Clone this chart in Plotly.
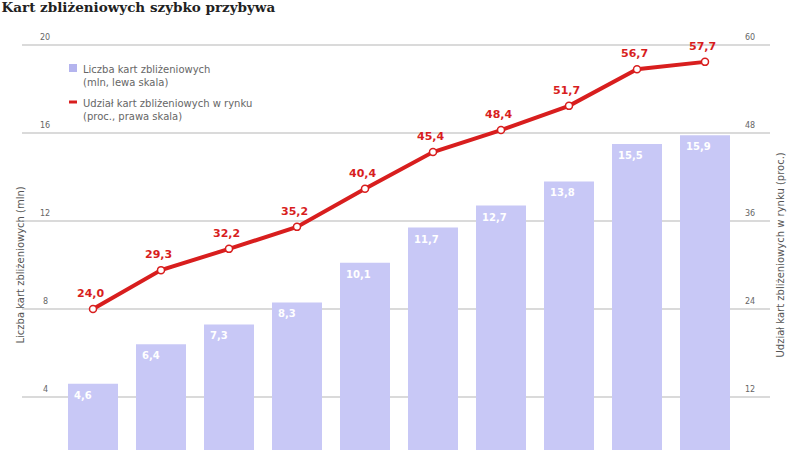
import plotly.graph_objects as go

# ---- data ----
periods = list(range(10))
cards_mln = [4.6, 6.4, 7.3, 8.3, 10.1, 11.7, 12.7, 13.8, 15.5, 15.9]
share_pct = [24.0, 29.3, 32.2, 35.2, 40.4, 45.4, 48.4, 51.7, 56.7, 57.7]
left_ticks = [4, 8, 12, 16, 20]
right_ticks = [12, 24, 36, 48, 60]

title = "Kart zbliżeniowych szybko przybywa"
left_title = "Liczba kart zbliżeniowych (mln)"
right_title = "Udział kart zbliżeniowych w rynku (proc.)"
legend_bar = ["Liczba kart zbliżeniowych", "(mln, lewa skala)"]
legend_line = ["Udział kart zbliżeniowych w rynku", "(proc., prawa skala)"]

def pl(v):
    return f"{v:.1f}".replace(".", ",")

BAR = "#c8c8f6"
RED = "#d81e1e"
GRAY = "#666666"

# pixel layout helpers
L, R, T, B = 22, 30, 30, 0
W, H = 800, 450
pw, ph = W - L - R, H - T - B
def px_x(x):
    return (x - L) / pw
def px_y(y):
    return (H - B - y) / ph

fig = go.Figure()
fig.add_trace(go.Bar(
    x=periods, y=cards_mln, width=0.735, marker=dict(color=BAR, line=dict(width=0)),
    hoverinfo="skip", showlegend=False))
fig.add_trace(go.Scatter(
    x=periods, y=share_pct, yaxis="y2", mode="lines+markers",
    line=dict(color=RED, width=4),
    marker=dict(size=7, color="white", line=dict(color=RED, width=1.5)),
    showlegend=False, cliponaxis=False))

annotations = []
# line value labels
for x, v in zip(periods, share_pct):
    annotations.append(dict(x=x, y=v, xref="x", yref="y2", text="<b>" + pl(v) + "</b>", showarrow=False,
                            xanchor="center", yanchor="bottom", xshift=-3, yshift=7,
                            font=dict(color=RED, size=11, family="DejaVu Sans")))
# bar value labels
for x, v in zip(periods, cards_mln):
    annotations.append(dict(x=x, y=v, xref="x", yref="y", text="<b>" + pl(v) + "</b>", showarrow=False,
                            xanchor="left", yanchor="top", xshift=-21, yshift=-4,
                            font=dict(color="white", size=10, family="DejaVu Sans")))
# tick labels above gridlines
for t in left_ticks:
    annotations.append(dict(x=px_x(45), y=t, xref="paper", yref="y", text=str(t), showarrow=False,
                            xanchor="center", yanchor="bottom", yshift=1,
                            font=dict(color=GRAY, size=8, family="DejaVu Sans")))
for t in right_ticks:
    annotations.append(dict(x=px_x(750), y=t, xref="paper", yref="y2", text=str(t), showarrow=False,
                            xanchor="center", yanchor="bottom", yshift=1,
                            font=dict(color=GRAY, size=8, family="DejaVu Sans")))
# axis titles
annotations.append(dict(x=px_x(12), y=px_y(265), xref="paper", yref="paper", text=left_title,
                        textangle=-90, showarrow=False, font=dict(color="#555", size=10, family="DejaVu Sans")))
annotations.append(dict(x=px_x(787), y=px_y(255), xref="paper", yref="paper", text=right_title,
                        textangle=-90, showarrow=False, font=dict(color="#555", size=10, family="DejaVu Sans")))
# legend text
annotations.append(dict(x=px_x(81), y=px_y(62), xref="paper", yref="paper",
                        text="<br>".join(legend_bar), align="left", showarrow=False,
                        xanchor="left", yanchor="top", font=dict(color=GRAY, size=10, family="DejaVu Sans")))
annotations.append(dict(x=px_x(81), y=px_y(96), xref="paper", yref="paper",
                        text="<br>".join(legend_line), align="left", showarrow=False,
                        xanchor="left", yanchor="top", font=dict(color=GRAY, size=10, family="DejaVu Sans")))

shapes = [
    dict(type="rect", xref="paper", yref="paper", x0=px_x(69), x1=px_x(77), y0=px_y(64), y1=px_y(72),
         fillcolor="#b4b4ee", line=dict(width=0)),
    dict(type="line", xref="paper", yref="paper", x0=px_x(69), x1=px_x(77), y0=px_y(102), y1=px_y(102),
         line=dict(color=RED, width=3)),
]

lo = (485 - (H - B)) / 22.0
hi = (485 - T) / 22.0

fig.update_layout(
    width=W, height=H, margin=dict(l=L, r=R, t=T, b=B),
    paper_bgcolor="white", plot_bgcolor="white",
    title=dict(text="<b>" + title + "</b>", x=0.002, xref="container", xanchor="left",
               y=0.995, yref="container", yanchor="top",
               font=dict(family="DejaVu Serif", size=13.5, color="#222")),
    xaxis=dict(range=[(L - 93) / 68.0, (W - R - 93) / 68.0], showgrid=False, showticklabels=False,
               zeroline=False, showline=False, ticks=""),
    yaxis=dict(range=[lo, hi], tickvals=left_ticks, showticklabels=False, showgrid=True,
               gridcolor="#dadada", gridwidth=2, zeroline=False, showline=False, ticks=""),
    yaxis2=dict(range=[lo * 3, hi * 3], overlaying="y", side="right", showgrid=False,
                showticklabels=False, zeroline=False, showline=False, ticks=""),
    annotations=annotations, shapes=shapes, showlegend=False,
)

fig.write_html("out.html")
